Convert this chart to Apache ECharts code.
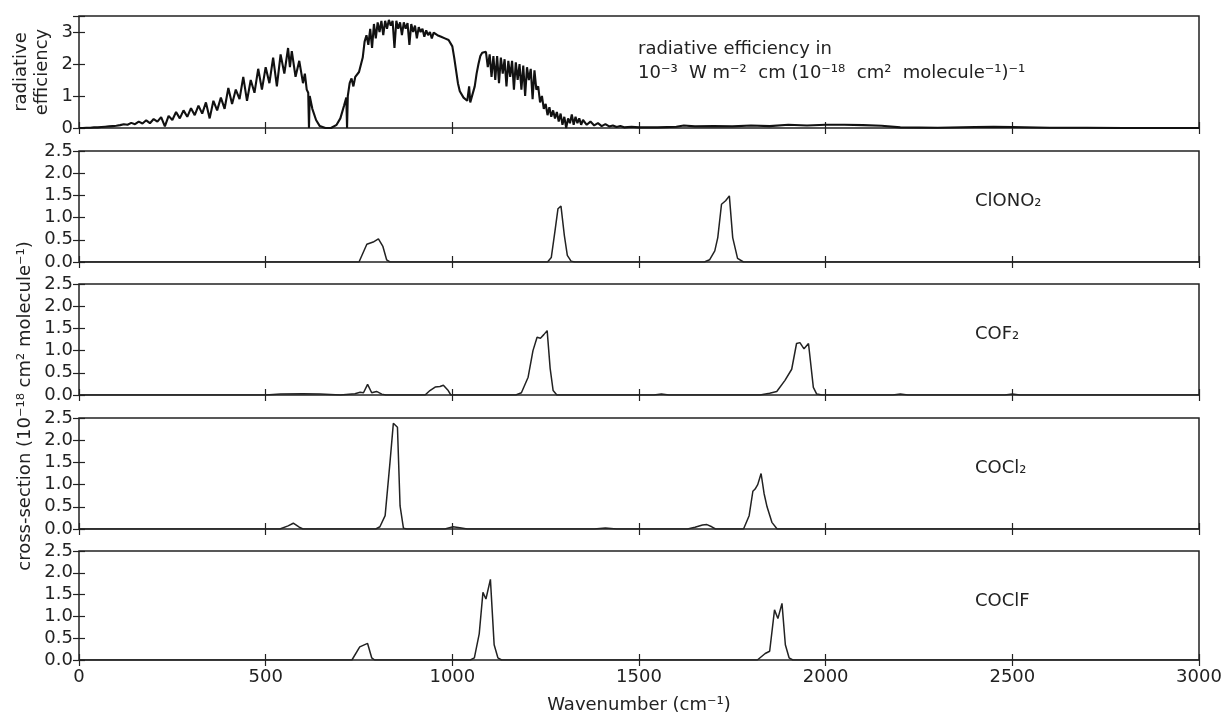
<!DOCTYPE html>
<html>
<head>
<meta charset="utf-8">
<script src="https://cdn.jsdelivr.net/npm/echarts@6/dist/echarts.min.js"></script>
<style>
  html, body { margin: 0; padding: 0; background: #fff; }
  #chart { width: 1225px; height: 715px; }
</style>
</head>
<body>
<div id="chart"></div>
<script>
// radiative efficiency spectrum
const rfWave = [0,10,20,30,40,50,60,70,80,90,100,110,120,130,140,150,160,170,180,190,200,210,220,230,240,250,260,270,280,290,300,310,320,330,340,350,360,370,380,390,400,410,420,430,440,450,460,470,480,490,500,510,520,530,540,550,560,565,570,580,590,600,605,610,614,616,618,625,635,645,660,675,690,700,710,716,718,720,725,730,735,740,745,750,755,760,765,770,775,780,785,790,795,800,805,810,815,820,825,830,835,840,845,850,855,860,865,870,875,880,885,890,895,900,905,910,915,920,925,930,935,940,945,950,960,970,980,990,1000,1005,1010,1015,1020,1030,1040,1045,1048,1052,1060,1065,1070,1075,1080,1085,1090,1095,1100,1105,1110,1115,1120,1125,1130,1135,1140,1145,1150,1155,1160,1165,1170,1175,1180,1185,1190,1195,1200,1205,1210,1215,1220,1225,1230,1235,1240,1245,1250,1255,1260,1265,1270,1275,1280,1285,1290,1295,1300,1305,1310,1315,1320,1325,1330,1335,1340,1345,1350,1360,1370,1380,1390,1400,1410,1420,1430,1440,1450,1460,1480,1500,1550,1600,1620,1650,1700,1750,1800,1850,1900,1950,2000,2050,2100,2150,2200,2300,2400,2450,2500,2600,2700,2800,2900,3000];
const rfValue = [0,0,0.01,0.01,0.02,0.02,0.03,0.04,0.05,0.06,0.07,0.09,0.12,0.1,0.16,0.12,0.2,0.14,0.24,0.15,0.28,0.2,0.34,0.05,0.38,0.25,0.5,0.3,0.55,0.35,0.62,0.4,0.7,0.45,0.8,0.3,0.85,0.55,0.95,0.6,1.25,0.75,1.2,0.9,1.6,0.85,1.5,1.1,1.85,1.2,1.9,1.4,2.2,1.3,2.3,1.7,2.5,1.9,2.4,1.6,2.1,1.4,1.7,1.2,1.1,0,1.0,0.6,0.25,0.06,0,0,0.1,0.3,0.7,0.95,0,1.0,1.4,1.55,1.3,1.6,1.55,1.75,1.7,2.2,2.7,2.9,2.6,3.1,2.5,3.25,2.8,3.3,3.0,3.35,2.9,3.35,3.1,3.38,3.2,3.35,2.5,3.35,3.1,3.3,2.9,3.3,3.1,3.28,2.6,3.25,3.0,3.2,2.8,3.15,3.0,3.1,2.85,3.05,2.9,3.0,2.8,2.98,2.9,2.85,2.8,2.75,2.55,2.2,1.8,1.4,1.15,0.95,0.85,1.3,0.8,0.75,1.3,1.7,2.0,2.25,2.35,2.3,2.38,1.9,2.3,1.6,2.25,1.5,2.25,1.4,2.2,1.7,2.15,1.3,2.1,1.6,2.1,1.2,2.05,1.5,2.0,1.2,1.95,1.0,1.9,1.5,1.85,0.9,1.8,1.2,1.3,0.8,1.0,0.6,0.75,0.4,0.65,0.35,0.55,0.3,0.5,0.2,0.45,0.1,0.35,0.0,0.3,0.15,0.42,0.1,0.35,0.15,0.3,0.1,0.25,0.1,0.2,0.08,0.15,0.06,0.12,0.05,0.08,0.03,0.06,0.02,0.04,0.02,0.02,0.04,0.08,0.05,0.06,0.05,0.08,0.06,0.1,0.08,0.1,0.1,0.09,0.07,0.02,0.01,0.03,0.04,0.03,0.01,0.01,0,0,0];

// absorption cross-sections, 10^-18 cm2 molecule-1
const clono2Wave  = [0,750,771,788,802,814,824,833,1255,1265,1275,1283,1291,1300,1308,1318,1328,1675,1689,1703,1711,1721,1732,1742,1751,1764,1780,3000];
const clono2Value = [0,0,0.4,0.45,0.52,0.35,0.05,0,0,0.1,0.7,1.2,1.26,0.6,0.15,0.02,0,0,0.05,0.25,0.55,1.3,1.38,1.49,0.55,0.08,0,0];

const cof2Wave  = [0,500,540,600,646,700,739,753,762,773,784,797,811,822,927,940,954,967,976,989,996,1170,1185,1203,1216,1227,1236,1245,1254,1262,1270,1280,1540,1560,1580,1824,1850,1869,1891,1909,1922,1931,1942,1954,1967,1976,1990,2180,2200,2220,2480,2500,2520,3000];
const cof2Value = [0,0,0.02,0.03,0.02,0,0.03,0.06,0.05,0.24,0.05,0.08,0.02,0,0,0.1,0.18,0.19,0.22,0.1,0,0,0.05,0.4,1.0,1.3,1.28,1.36,1.45,0.6,0.1,0,0,0.02,0,0,0.04,0.08,0.33,0.58,1.16,1.18,1.04,1.16,0.17,0.02,0,0,0.02,0,0,0.02,0,0];

const cocl2Wave  = [0,538,560,574,590,600,795,806,820,833,842,853,860,869,878,980,1002,1020,1040,1380,1410,1440,1630,1650,1670,1682,1695,1705,1780,1795,1805,1811,1818,1827,1835,1843,1856,1870,3000];
const cocl2Value = [0,0,0.07,0.13,0.04,0,0,0.05,0.3,1.5,2.38,2.29,0.52,0.02,0,0,0.05,0.03,0,0,0.02,0,0,0.04,0.09,0.1,0.05,0,0,0.3,0.85,0.9,1.0,1.25,0.8,0.5,0.15,0,0];

const coclfWave  = [0,731,752,773,784,792,1048,1059,1072,1082,1090,1102,1112,1122,1132,1817,1838,1850,1863,1872,1883,1892,1902,1912,3000];
const coclfValue = [0,0,0.3,0.38,0.05,0,0,0.05,0.6,1.55,1.4,1.85,0.35,0.05,0,0,0.15,0.2,1.15,0.95,1.3,0.35,0.05,0,0];

const xTicks = [0, 500, 1000, 1500, 2000, 2500, 3000];
const rfTicks = [0, 1, 2, 3];
const csTicks = [0.0, 0.5, 1.0, 1.5, 2.0, 2.5];

const panels = [
  { wave: rfWave, value: rfValue, max: 3.5, interval: 1 },
  { wave: clono2Wave, value: clono2Value, max: 2.5, interval: 0.5, name: 'ClONO₂' },
  { wave: cof2Wave, value: cof2Value, max: 2.5, interval: 0.5, name: 'COF₂' },
  { wave: cocl2Wave, value: cocl2Value, max: 2.5, interval: 0.5, name: 'COCl₂' },
  { wave: coclfWave, value: coclfValue, max: 2.5, interval: 0.5, name: 'COClF' }
];
const tops = [16, 151, 284, 418, 551];
const heights = [112, 111, 111, 111, 111];

const ink = '#222';
const font = 'DejaVu Sans';
const tickStyle = { show: true, inside: true, length: 6, lineStyle: { color: ink, width: 1.2 } };

let grids = [], xAxes = [], yAxes = [], series = [], graphics = [];

panels.forEach(function (p, i) {
  grids.push({ left: 79, right: 26, top: tops[i], height: heights[i], show: true, borderColor: ink, borderWidth: 1.5, backgroundColor: '#fff' });
  let last = i === panels.length - 1;
  // bottom and top x axes
  xAxes.push({
    gridIndex: i, type: 'value', min: 0, max: 3000, interval: 500,
    axisLine: { show: false }, axisTick: tickStyle, splitLine: { show: false },
    axisLabel: {
      show: last, margin: 8, color: ink, fontFamily: font, fontSize: 18,
      formatter: function (v) { return xTicks.indexOf(v) >= 0 ? String(v) : ''; }
    },
    name: last ? 'Wavenumber (cm⁻¹)' : '', nameLocation: 'middle', nameGap: 36,
    nameTextStyle: { color: ink, fontFamily: font, fontSize: 18 }
  });
  xAxes.push({
    gridIndex: i, type: 'value', min: 0, max: 3000, interval: 500, position: 'top',
    axisLine: { show: false }, axisTick: tickStyle, axisLabel: { show: false }, splitLine: { show: false }
  });
  let ticks = i === 0 ? rfTicks : csTicks;
  yAxes.push({
    gridIndex: i, type: 'value', min: 0, max: p.max, interval: p.interval,
    axisLine: { show: false }, axisTick: tickStyle, splitLine: { show: false },
    axisLabel: {
      margin: 6, color: ink, fontFamily: font, fontSize: 18,
      formatter: function (v) {
        if (ticks.indexOf(v) < 0) return '';
        return i === 0 ? String(v) : v.toFixed(1);
      }
    }
  });
  yAxes.push({
    gridIndex: i, type: 'value', min: 0, max: p.max, interval: p.interval, position: 'right',
    axisLine: { show: false }, axisTick: tickStyle, axisLabel: { show: false }, splitLine: { show: false }
  });
  series.push({
    type: 'line', xAxisIndex: 2 * i, yAxisIndex: 2 * i,
    data: p.wave.map(function (w, k) { return [w, p.value[k]]; }),
    showSymbol: false, animation: false, z: 5,
    lineStyle: { color: i === 0 ? '#111' : ink, width: i === 0 ? 2.1 : 1.5 }
  });
  if (p.name) {
    graphics.push({
      type: 'text', left: 975, top: tops[i] + 52 - 11,
      style: { text: p.name, fill: ink, font: '18px "DejaVu Sans"' }
    });
  }
});

// annotation in the top panel
graphics.push({
  type: 'text', left: 638, top: 37,
  style: { text: 'radiative efficiency in\n10⁻³  W m⁻²  cm (10⁻¹⁸  cm²  molecule⁻¹)⁻¹', fill: ink, font: '18px "DejaVu Sans"', lineHeight: 24 }
});
// y labels
graphics.push({
  type: 'text', x: 32, y: 72, rotation: Math.PI / 2,
  style: { text: 'radiative\nefficiency', fill: ink, font: '18px "DejaVu Sans"', lineHeight: 21, align: 'center', verticalAlign: 'middle' }
});
graphics.push({
  type: 'text', x: 25, y: 406, rotation: Math.PI / 2,
  style: { text: 'cross-section (10⁻¹⁸ cm² molecule⁻¹)', fill: ink, font: '18px "DejaVu Sans"', align: 'center', verticalAlign: 'middle' }
});

let myChart = echarts.init(document.getElementById('chart'));
myChart.setOption({
  backgroundColor: '#fff',
  animation: false,
  grid: grids,
  xAxis: xAxes,
  yAxis: yAxes,
  series: series,
  graphic: graphics
});
</script>
</body>
</html>
